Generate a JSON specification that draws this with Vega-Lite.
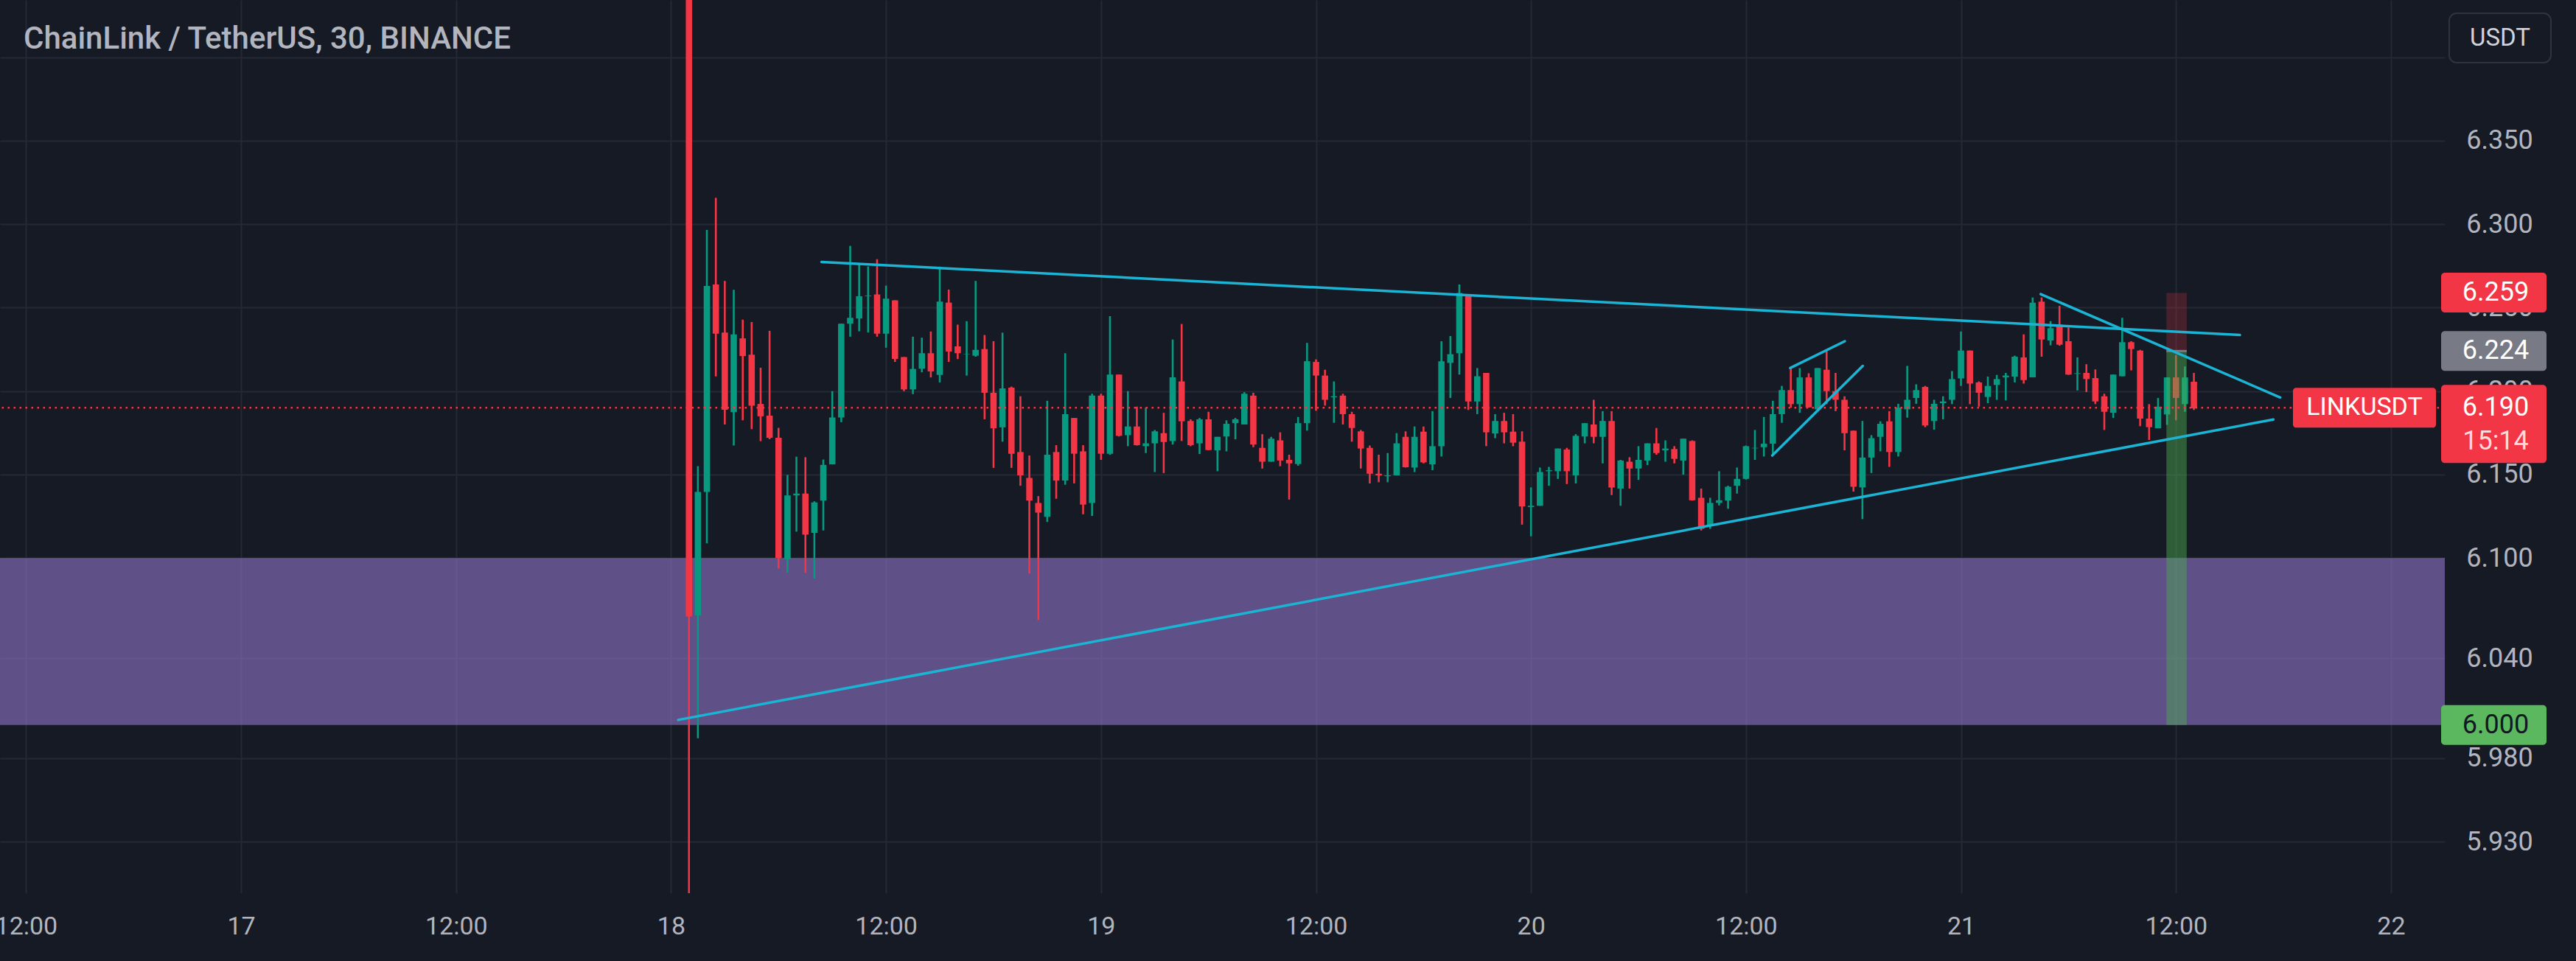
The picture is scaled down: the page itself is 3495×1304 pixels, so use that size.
{
"$schema":"https://vega.github.io/schema/vega-lite/v6.json",
"width":3317,"height":1212,
"autosize":{"type":"none"},
"padding":{"left":0,"top":0,"right":178,"bottom":92},
"background":"#161a25",
"config":{"view":{"stroke":null},"font":"Roboto"},
"datasets":{
"candles":[
{"t":"2022-11-18T01:00","o":6.60,"h":6.65,"l":5.85,"c":6.065},
{"t":"2022-11-18T01:30","o":6.0656,"h":6.155,"l":5.992,"c":6.1396},
{"t":"2022-11-18T02:00","o":6.1396,"h":6.2965,"l":6.1088,"c":6.263},
{"t":"2022-11-18T02:30","o":6.2639,"h":6.3158,"l":6.2088,"c":6.2344},
{"t":"2022-11-18T03:00","o":6.2351,"h":6.266,"l":6.18,"c":6.1888},
{"t":"2022-11-18T03:30","o":6.1874,"h":6.2607,"l":6.1674,"c":6.234},
{"t":"2022-11-18T04:00","o":6.2316,"h":6.2428,"l":6.1825,"c":6.221},
{"t":"2022-11-18T04:30","o":6.2218,"h":6.2414,"l":6.1772,"c":6.1912},
{"t":"2022-11-18T05:00","o":6.1923,"h":6.214,"l":6.170,"c":6.1849},
{"t":"2022-11-18T05:30","o":6.1853,"h":6.2361,"l":6.1712,"c":6.172},
{"t":"2022-11-18T06:00","o":6.172,"h":6.178,"l":6.0937,"c":6.100},
{"t":"2022-11-18T06:30","o":6.0993,"h":6.1498,"l":6.0912,"c":6.1375},
{"t":"2022-11-18T07:00","o":6.1375,"h":6.1607,"l":6.1158,"c":6.1386},
{"t":"2022-11-18T07:30","o":6.1386,"h":6.1604,"l":6.0912,"c":6.114},
{"t":"2022-11-18T08:00","o":6.1151,"h":6.134,"l":6.0877,"c":6.1333},
{"t":"2022-11-18T08:30","o":6.1344,"h":6.159,"l":6.1165,"c":6.1558},
{"t":"2022-11-18T09:00","o":6.1561,"h":6.2,"l":6.1561,"c":6.1842},
{"t":"2022-11-18T09:30","o":6.1842,"h":6.2404,"l":6.1814,"c":6.2404},
{"t":"2022-11-18T10:00","o":6.2404,"h":6.287,"l":6.2326,"c":6.2439},
{"t":"2022-11-18T10:30","o":6.2435,"h":6.2765,"l":6.2358,"c":6.2568},
{"t":"2022-11-18T11:00","o":6.2568,"h":6.2747,"l":6.2351,"c":6.2572},
{"t":"2022-11-18T11:30","o":6.2579,"h":6.279,"l":6.2326,"c":6.2344},
{"t":"2022-11-18T12:00","o":6.2344,"h":6.2632,"l":6.226,"c":6.2554},
{"t":"2022-11-18T12:30","o":6.2544,"h":6.2544,"l":6.2175,"c":6.2193},
{"t":"2022-11-18T13:00","o":6.2204,"h":6.2204,"l":6.200,"c":6.201},
{"t":"2022-11-18T13:30","o":6.201,"h":6.2326,"l":6.1982,"c":6.2133},
{"t":"2022-11-18T14:00","o":6.2134,"h":6.232,"l":6.2113,"c":6.2227},
{"t":"2022-11-18T14:30","o":6.2227,"h":6.2357,"l":6.2082,"c":6.2118},
{"t":"2022-11-18T15:00","o":6.2097,"h":6.2746,"l":6.2052,"c":6.2536},
{"t":"2022-11-18T15:30","o":6.253,"h":6.2608,"l":6.2175,"c":6.2237},
{"t":"2022-11-18T16:00","o":6.2268,"h":6.2398,"l":6.2192,"c":6.2227},
{"t":"2022-11-18T16:30","o":6.2221,"h":6.2419,"l":6.2093,"c":6.2223},
{"t":"2022-11-18T17:00","o":6.2212,"h":6.266,"l":6.2206,"c":6.2247},
{"t":"2022-11-18T17:30","o":6.2252,"h":6.2336,"l":6.1831,"c":6.199},
{"t":"2022-11-18T18:00","o":6.199,"h":6.2299,"l":6.154,"c":6.1777},
{"t":"2022-11-18T18:30","o":6.1783,"h":6.235,"l":6.1697,"c":6.2016},
{"t":"2022-11-18T19:00","o":6.2021,"h":6.2027,"l":6.154,"c":6.1625},
{"t":"2022-11-18T19:30","o":6.1635,"h":6.1969,"l":6.1433,"c":6.1495},
{"t":"2022-11-18T20:00","o":6.148,"h":6.1614,"l":6.0907,"c":6.1344},
{"t":"2022-11-18T20:30","o":6.133,"h":6.1371,"l":6.0629,"c":6.1272},
{"t":"2022-11-18T21:00","o":6.1247,"h":6.1942,"l":6.1216,"c":6.1619},
{"t":"2022-11-18T21:30","o":6.1635,"h":6.1676,"l":6.1355,"c":6.1464},
{"t":"2022-11-18T22:00","o":6.1464,"h":6.2227,"l":6.1439,"c":6.1862},
{"t":"2022-11-18T22:30","o":6.1839,"h":6.1839,"l":6.1447,"c":6.1625},
{"t":"2022-11-18T23:00","o":6.1639,"h":6.1676,"l":6.1262,"c":6.132},
{"t":"2022-11-18T23:30","o":6.133,"h":6.1984,"l":6.1252,"c":6.1973},
{"t":"2022-11-19T00:00","o":6.1973,"h":6.1984,"l":6.1588,"c":6.1625},
{"t":"2022-11-19T00:30","o":6.1625,"h":6.2449,"l":6.1618,"c":6.2099},
{"t":"2022-11-19T01:00","o":6.2099,"h":6.2099,"l":6.1728,"c":6.1732},
{"t":"2022-11-19T01:30","o":6.1736,"h":6.2,"l":6.167,"c":6.1788},
{"t":"2022-11-19T02:00","o":6.1788,"h":6.1907,"l":6.1674,"c":6.1676},
{"t":"2022-11-19T02:30","o":6.167,"h":6.1901,"l":6.1629,"c":6.1687},
{"t":"2022-11-19T03:00","o":6.1687,"h":6.1767,"l":6.1515,"c":6.1759},
{"t":"2022-11-19T03:30","o":6.1748,"h":6.187,"l":6.1509,"c":6.1695},
{"t":"2022-11-19T04:00","o":6.1701,"h":6.2309,"l":6.168,"c":6.2082},
{"t":"2022-11-19T04:30","o":6.2058,"h":6.2402,"l":6.1701,"c":6.1819},
{"t":"2022-11-19T05:00","o":6.1821,"h":6.1831,"l":6.167,"c":6.1676},
{"t":"2022-11-19T05:30","o":6.1687,"h":6.1839,"l":6.1623,"c":6.1831},
{"t":"2022-11-19T06:00","o":6.1831,"h":6.1876,"l":6.1645,"c":6.1647},
{"t":"2022-11-19T06:30","o":6.1645,"h":6.1726,"l":6.152,"c":6.1726},
{"t":"2022-11-19T07:00","o":6.1728,"h":6.1825,"l":6.1639,"c":6.1804},
{"t":"2022-11-19T07:30","o":6.1808,"h":6.1839,"l":6.1711,"c":6.1831},
{"t":"2022-11-19T08:00","o":6.18,"h":6.1994,"l":6.18,"c":6.1984},
{"t":"2022-11-19T08:30","o":6.1973,"h":6.199,"l":6.1664,"c":6.168},
{"t":"2022-11-19T09:00","o":6.166,"h":6.1742,"l":6.1536,"c":6.1577},
{"t":"2022-11-19T09:30","o":6.1577,"h":6.1726,"l":6.1577,"c":6.1715},
{"t":"2022-11-19T10:00","o":6.1705,"h":6.1753,"l":6.155,"c":6.1584},
{"t":"2022-11-19T10:30","o":6.1588,"h":6.1619,"l":6.135,"c":6.1567},
{"t":"2022-11-19T11:00","o":6.1563,"h":6.1845,"l":6.1553,"c":6.1808},
{"t":"2022-11-19T11:30","o":6.1808,"h":6.2289,"l":6.1763,"c":6.2179},
{"t":"2022-11-19T12:00","o":6.2175,"h":6.219,"l":6.1882,"c":6.2093},
{"t":"2022-11-19T12:30","o":6.2093,"h":6.2128,"l":6.1913,"c":6.1948},
{"t":"2022-11-19T13:00","o":6.1963,"h":6.2058,"l":6.181,"c":6.1969},
{"t":"2022-11-19T13:30","o":6.1973,"h":6.1984,"l":6.18,"c":6.1862},
{"t":"2022-11-19T14:00","o":6.1862,"h":6.1876,"l":6.1697,"c":6.1779},
{"t":"2022-11-19T14:30","o":6.1759,"h":6.1767,"l":6.1536,"c":6.1656},
{"t":"2022-11-19T15:00","o":6.166,"h":6.1674,"l":6.1447,"c":6.1505},
{"t":"2022-11-19T15:30","o":6.1505,"h":6.1619,"l":6.1454,"c":6.1495},
{"t":"2022-11-19T16:00","o":6.149,"h":6.1629,"l":6.1454,"c":6.1495},
{"t":"2022-11-19T16:30","o":6.1495,"h":6.1748,"l":6.1495,"c":6.1687},
{"t":"2022-11-19T17:00","o":6.1726,"h":6.1759,"l":6.1542,"c":6.1544},
{"t":"2022-11-19T17:30","o":6.1542,"h":6.1788,"l":6.1515,"c":6.1726},
{"t":"2022-11-19T18:00","o":6.1757,"h":6.1788,"l":6.1567,"c":6.1573},
{"t":"2022-11-19T18:30","o":6.1561,"h":6.188,"l":6.1526,"c":6.167},
{"t":"2022-11-19T19:00","o":6.167,"h":6.2299,"l":6.1608,"c":6.2179},
{"t":"2022-11-19T19:30","o":6.2169,"h":6.233,"l":6.1959,"c":6.2221},
{"t":"2022-11-19T20:00","o":6.2227,"h":6.2639,"l":6.2099,"c":6.2588},
{"t":"2022-11-19T20:30","o":6.2581,"h":6.2581,"l":6.1887,"c":6.1938},
{"t":"2022-11-19T21:00","o":6.1938,"h":6.2138,"l":6.1862,"c":6.2089},
{"t":"2022-11-19T21:30","o":6.2109,"h":6.2109,"l":6.167,"c":6.1753},
{"t":"2022-11-19T22:00","o":6.1746,"h":6.1862,"l":6.1718,"c":6.1821},
{"t":"2022-11-19T22:30","o":6.1821,"h":6.187,"l":6.1687,"c":6.1753},
{"t":"2022-11-19T23:00","o":6.1757,"h":6.1862,"l":6.167,"c":6.1691},
{"t":"2022-11-19T23:30","o":6.1697,"h":6.1759,"l":6.12,"c":6.1309},
{"t":"2022-11-20T00:00","o":6.1305,"h":6.1423,"l":6.113,"c":6.1313},
{"t":"2022-11-20T00:30","o":6.1313,"h":6.1542,"l":6.1313,"c":6.1515},
{"t":"2022-11-20T01:00","o":6.152,"h":6.1546,"l":6.1433,"c":6.1526},
{"t":"2022-11-20T01:30","o":6.152,"h":6.1656,"l":6.1474,"c":6.1656},
{"t":"2022-11-20T02:00","o":6.165,"h":6.166,"l":6.1443,"c":6.152},
{"t":"2022-11-20T02:30","o":6.1495,"h":6.1742,"l":6.1447,"c":6.1732},
{"t":"2022-11-20T03:00","o":6.1728,"h":6.1808,"l":6.1687,"c":6.1808},
{"t":"2022-11-20T03:30","o":6.18,"h":6.1948,"l":6.1687,"c":6.1726},
{"t":"2022-11-20T04:00","o":6.1726,"h":6.188,"l":6.1567,"c":6.1821},
{"t":"2022-11-20T04:30","o":6.1821,"h":6.188,"l":6.1377,"c":6.1423},
{"t":"2022-11-20T05:00","o":6.1416,"h":6.1588,"l":6.1313,"c":6.1584},
{"t":"2022-11-20T05:30","o":6.1577,"h":6.1604,"l":6.1416,"c":6.1536},
{"t":"2022-11-20T06:00","o":6.1536,"h":6.167,"l":6.1468,"c":6.1588},
{"t":"2022-11-20T06:30","o":6.1584,"h":6.1687,"l":6.1557,"c":6.1687},
{"t":"2022-11-20T07:00","o":6.1687,"h":6.1779,"l":6.1619,"c":6.1629},
{"t":"2022-11-20T07:30","o":6.1645,"h":6.1705,"l":6.1577,"c":6.1656},
{"t":"2022-11-20T08:00","o":6.1653,"h":6.167,"l":6.1567,"c":6.1594},
{"t":"2022-11-20T08:30","o":6.1584,"h":6.1715,"l":6.1499,"c":6.1715},
{"t":"2022-11-20T09:00","o":6.1701,"h":6.1705,"l":6.1344,"c":6.1346},
{"t":"2022-11-20T09:30","o":6.1361,"h":6.1416,"l":6.1165,"c":6.1175},
{"t":"2022-11-20T10:00","o":6.1192,"h":6.1361,"l":6.1175,"c":6.133},
{"t":"2022-11-20T10:30","o":6.133,"h":6.152,"l":6.1315,"c":6.1346},
{"t":"2022-11-20T11:00","o":6.1344,"h":6.1433,"l":6.1295,"c":6.1427},
{"t":"2022-11-20T11:30","o":6.1433,"h":6.1542,"l":6.1386,"c":6.1474},
{"t":"2022-11-20T12:00","o":6.1474,"h":6.1674,"l":6.147,"c":6.167},
{"t":"2022-11-20T12:30","o":6.1657,"h":6.1767,"l":6.1588,"c":6.166},
{"t":"2022-11-20T13:00","o":6.1664,"h":6.1845,"l":6.1608,"c":6.1685},
{"t":"2022-11-20T13:30","o":6.1685,"h":6.1942,"l":6.1625,"c":6.1862},
{"t":"2022-11-20T14:00","o":6.1862,"h":6.2031,"l":6.181,"c":6.2006},
{"t":"2022-11-20T14:30","o":6.2006,"h":6.2138,"l":6.1901,"c":6.1922},
{"t":"2022-11-20T15:00","o":6.1922,"h":6.2138,"l":6.187,"c":6.2082},
{"t":"2022-11-20T15:30","o":6.2082,"h":6.2107,"l":6.1901,"c":6.1903},
{"t":"2022-11-20T16:00","o":6.1891,"h":6.2138,"l":6.188,"c":6.2138},
{"t":"2022-11-20T16:30","o":6.2128,"h":6.2247,"l":6.1922,"c":6.2},
{"t":"2022-11-20T17:00","o":6.2,"h":6.2109,"l":6.188,"c":6.1948},
{"t":"2022-11-20T17:30","o":6.1948,"h":6.1969,"l":6.1645,"c":6.1748},
{"t":"2022-11-20T18:00","o":6.1763,"h":6.1763,"l":6.1398,"c":6.1427},
{"t":"2022-11-20T18:30","o":6.1423,"h":6.1821,"l":6.1233,"c":6.1602},
{"t":"2022-11-20T19:00","o":6.1602,"h":6.1736,"l":6.1509,"c":6.1718},
{"t":"2022-11-20T19:30","o":6.1726,"h":6.1819,"l":6.1639,"c":6.1804},
{"t":"2022-11-20T20:00","o":6.1819,"h":6.188,"l":6.1546,"c":6.1635},
{"t":"2022-11-20T20:30","o":6.1635,"h":6.1924,"l":6.1608,"c":6.1901},
{"t":"2022-11-20T21:00","o":6.1891,"h":6.2151,"l":6.1841,"c":6.1948},
{"t":"2022-11-20T21:30","o":6.1959,"h":6.2041,"l":6.1924,"c":6.2006},
{"t":"2022-11-20T22:00","o":6.2025,"h":6.2031,"l":6.1784,"c":6.1794},
{"t":"2022-11-20T22:30","o":6.1821,"h":6.1948,"l":6.1769,"c":6.1924},
{"t":"2022-11-20T23:00","o":6.1928,"h":6.1969,"l":6.1831,"c":6.1938},
{"t":"2022-11-20T23:30","o":6.1948,"h":6.212,"l":6.1922,"c":6.2072},
{"t":"2022-11-21T00:00","o":6.2076,"h":6.2357,"l":6.2031,"c":6.2243},
{"t":"2022-11-21T00:30","o":6.2243,"h":6.2243,"l":6.1922,"c":6.2045},
{"t":"2022-11-21T01:00","o":6.2052,"h":6.2058,"l":6.1907,"c":6.199},
{"t":"2022-11-21T01:30","o":6.1965,"h":6.2087,"l":6.1928,"c":6.2031},
{"t":"2022-11-21T02:00","o":6.2037,"h":6.2097,"l":6.1948,"c":6.2072},
{"t":"2022-11-21T02:30","o":6.2082,"h":6.2109,"l":6.1944,"c":6.2093},
{"t":"2022-11-21T03:00","o":6.2087,"h":6.2212,"l":6.2052,"c":6.2206},
{"t":"2022-11-21T03:30","o":6.2202,"h":6.234,"l":6.2045,"c":6.2066},
{"t":"2022-11-21T04:00","o":6.2082,"h":6.2561,"l":6.2082,"c":6.253},
{"t":"2022-11-21T04:30","o":6.2536,"h":6.2561,"l":6.2206,"c":6.2309},
{"t":"2022-11-21T05:00","o":6.2303,"h":6.2419,"l":6.2274,"c":6.2377},
{"t":"2022-11-21T05:30","o":6.2398,"h":6.2511,"l":6.2272,"c":6.2278},
{"t":"2022-11-21T06:00","o":6.2299,"h":6.2381,"l":6.2097,"c":6.2099},
{"t":"2022-11-21T06:30","o":6.2103,"h":6.2202,"l":6.2004,"c":6.2107},
{"t":"2022-11-21T07:00","o":6.2109,"h":6.2161,"l":6.1994,"c":6.2072},
{"t":"2022-11-21T07:30","o":6.2078,"h":6.213,"l":6.1922,"c":6.1938},
{"t":"2022-11-21T08:00","o":6.1969,"h":6.1984,"l":6.1767,"c":6.1876},
{"t":"2022-11-21T08:30","o":6.187,"h":6.2099,"l":6.1839,"c":6.2099},
{"t":"2022-11-21T09:00","o":6.2089,"h":6.2439,"l":6.2089,"c":6.2293},
{"t":"2022-11-21T09:30","o":6.2293,"h":6.2299,"l":6.2124,"c":6.2252},
{"t":"2022-11-21T10:00","o":6.2243,"h":6.2247,"l":6.179,"c":6.1835},
{"t":"2022-11-21T10:30","o":6.1835,"h":6.1922,"l":6.1707,"c":6.1784},
{"t":"2022-11-21T11:00","o":6.1777,"h":6.1959,"l":6.1777,"c":6.1907},
{"t":"2022-11-21T11:30","o":6.186,"h":6.2082,"l":6.1798,"c":6.2082},
{"t":"2022-11-21T12:00","o":6.2082,"h":6.2216,"l":6.1825,"c":6.1959},
{"t":"2022-11-21T12:30","o":6.1922,"h":6.2148,"l":6.1876,"c":6.2082},
{"t":"2022-11-21T13:00","o":6.2056,"h":6.2109,"l":6.1887,"c":6.1897}
],
"trendlines":[
{"id":"upper","t":"2022-11-18T08:24","p":6.2774},{"id":"upper","t":"2022-11-21T15:34","p":6.2336},
{"id":"lower","t":"2022-11-18T00:24","p":6.003},{"id":"lower","t":"2022-11-21T17:26","p":6.183},
{"id":"descending","t":"2022-11-21T04:27","p":6.2581},{"id":"descending","t":"2022-11-21T17:49","p":6.1962},
{"id":"wedge_top","t":"2022-11-20T14:28","p":6.2138},{"id":"wedge_top","t":"2022-11-20T17:31","p":6.2299},
{"id":"wedge_bottom","t":"2022-11-20T13:28","p":6.1614},{"id":"wedge_bottom","t":"2022-11-20T18:31","p":6.2151}
]
},
"layer":[
{"data":{"values":[{"top":6.1,"bottom":6.0}]},
 "mark":{"type":"rect","fill":"#9174ca","opacity":0.6,"clip":true},
 "encoding":{
  "x":{"datum":{"year":2022,"month":11,"date":16,"hours":0},"type":"temporal",
   "scale":{"domain":[{"year":2022,"month":11,"date":16,"hours":10,"minutes":45},{"year":2022,"month":11,"date":22,"hours":2,"minutes":48}],"nice":false},
   "axis":{"title":null,"values":[
     {"year":2022,"month":11,"date":16,"hours":12},{"year":2022,"month":11,"date":17,"hours":0},
     {"year":2022,"month":11,"date":17,"hours":12},{"year":2022,"month":11,"date":18,"hours":0},
     {"year":2022,"month":11,"date":18,"hours":12},{"year":2022,"month":11,"date":19,"hours":0},
     {"year":2022,"month":11,"date":19,"hours":12},{"year":2022,"month":11,"date":20,"hours":0},
     {"year":2022,"month":11,"date":20,"hours":12},{"year":2022,"month":11,"date":21,"hours":0},
     {"year":2022,"month":11,"date":21,"hours":12},{"year":2022,"month":11,"date":22,"hours":0}],
    "labelExpr":"hours(datum.value) == 0 ? timeFormat(datum.value, '%-d') : '12:00'",
    "grid":true,"gridColor":"#252935","gridWidth":2,"domain":false,"ticks":false,"tickSize":0,
    "labelColor":"#b2b5be","labelFontSize":34,"labelFont":"Roboto","labelPadding":45,"labelBaseline":"middle",
    "labelFlush":false,"labelOverlap":false}},
  "x2":{"datum":{"year":2022,"month":11,"date":23,"hours":0}},
  "y":{"field":"top","type":"quantitative","title":null,
     "scale":{"domain":[5.8992,6.4343],"zero":false,"nice":false},
     "axis":{"title":null,"orient":"right","values":[5.93,5.98,6.04,6.1,6.15,6.2,6.25,6.3,6.35,6.4],
      "labelExpr":"datum.value > 6.39 ? '' : format(datum.value, '.3f')",
      "grid":true,"gridColor":"#252935","gridWidth":2,"domain":false,"ticks":false,"tickSize":0,
      "labelColor":"#b2b5be","labelFontSize":36,"labelFont":"Roboto","labelAlign":"center","labelPadding":74,"labelBaseline":"middle"}},
  "y2":{"field":"bottom"}}},
{"data":{"name":"candles"},
 "encoding":{
  "x":{"field":"t","type":"temporal","title":null},
  "color":{"condition":{"test":"datum.c >= datum.o","value":"#089981"},"value":"#f23645"}},
 "layer":[
  {"mark":{"type":"rule","strokeWidth":2.6,"clip":true},
   "encoding":{"y":{"field":"l","type":"quantitative","title":null},"y2":{"field":"h"}}},
  {"mark":{"type":"bar","width":8.6,"clip":true},
   "encoding":{"y":{"field":"o","type":"quantitative","title":null},"y2":{"field":"c"}}}
 ]},
{"data":{"values":[{"top":6.2588,"bottom":6.224,"zone":"stop"},{"top":6.224,"bottom":6.0,"zone":"target"}]},
 "mark":{"type":"rect","clip":true},
 "encoding":{
  "x":{"datum":{"year":2022,"month":11,"date":21,"hours":11,"minutes":28},"type":"temporal"},
  "x2":{"datum":{"year":2022,"month":11,"date":21,"hours":12,"minutes":36}},
  "y":{"field":"top","type":"quantitative","title":null},
  "y2":{"field":"bottom"},
  "fill":{"condition":{"test":"datum.zone == 'stop'","value":"#f23645"},"value":"#4caf50"},
  "opacity":{"condition":{"test":"datum.zone == 'stop'","value":0.22},"value":0.45}}},
{"data":{"values":[{"entry":6.224}]},
 "mark":{"type":"rule","color":"#787b86","strokeWidth":3},
 "encoding":{
  "x":{"datum":{"year":2022,"month":11,"date":21,"hours":11,"minutes":28},"type":"temporal"},
  "x2":{"datum":{"year":2022,"month":11,"date":21,"hours":12,"minutes":36}},
  "y":{"field":"entry","type":"quantitative","title":null}}},
{"data":{"values":[{"last":6.19}]},
 "mark":{"type":"rule","color":"#f23645","strokeWidth":2.5,"strokeDash":[2.5,5.5]},
 "encoding":{"y":{"field":"last","type":"quantitative","title":null}}},
{"data":{"name":"trendlines"},
 "mark":{"type":"line","color":"#1cb4d4","strokeWidth":3.5,"strokeCap":"round","clip":true},
 "encoding":{
  "x":{"field":"t","type":"temporal","title":null},
  "y":{"field":"p","type":"quantitative","title":null},
  "detail":{"field":"id"}}},
{"data":{"values":[{"p":6.19,"symbol":"LINKUSDT"}]},
 "layer":[
  {"mark":{"type":"rect","fill":"#f23645","cornerRadius":4,"xOffset":-201,"x2Offset":-7,"yOffset":-27,"y2Offset":27},
   "encoding":{
    "x":{"datum":{"year":2022,"month":11,"date":22,"hours":2,"minutes":48},"type":"temporal"},
    "x2":{"datum":{"year":2022,"month":11,"date":22,"hours":2,"minutes":48}},
    "y":{"field":"p","type":"quantitative","title":null},"y2":{"field":"p"}}},
  {"mark":{"type":"text","color":"#ffffff","fontSize":34,"font":"Roboto","align":"center","baseline":"middle","xOffset":-104},
   "encoding":{
    "x":{"datum":{"year":2022,"month":11,"date":22,"hours":2,"minutes":48},"type":"temporal"},
    "y":{"field":"p","type":"quantitative","title":null},"text":{"field":"symbol"}}}
 ]},
{"data":{"values":[{"p":6.259}]},
 "layer":[
  {"mark":{"type":"rect","fill":"#f23645","cornerRadius":5,"x2Offset":143,"yOffset":-27,"y2Offset":27},
   "encoding":{
    "x":{"datum":{"year":2022,"month":11,"date":22,"hours":2,"minutes":48},"type":"temporal"},
    "x2":{"datum":{"year":2022,"month":11,"date":22,"hours":2,"minutes":48}},
    "y":{"field":"p","type":"quantitative","title":null},"y2":{"field":"p"}}},
  {"mark":{"type":"text","color":"#ffffff","fontSize":36,"font":"Roboto","align":"center","baseline":"middle","xOffset":74},
   "encoding":{
    "x":{"datum":{"year":2022,"month":11,"date":22,"hours":2,"minutes":48},"type":"temporal"},
    "y":{"field":"p","type":"quantitative","title":null},"text":{"field":"p","format":".3f"}}}
 ]},
{"data":{"values":[{"p":6.224}]},
 "layer":[
  {"mark":{"type":"rect","fill":"#787b86","cornerRadius":5,"x2Offset":143,"yOffset":-27,"y2Offset":27},
   "encoding":{
    "x":{"datum":{"year":2022,"month":11,"date":22,"hours":2,"minutes":48},"type":"temporal"},
    "x2":{"datum":{"year":2022,"month":11,"date":22,"hours":2,"minutes":48}},
    "y":{"field":"p","type":"quantitative","title":null},"y2":{"field":"p"}}},
  {"mark":{"type":"text","color":"#ffffff","fontSize":36,"font":"Roboto","align":"center","baseline":"middle","xOffset":74},
   "encoding":{
    "x":{"datum":{"year":2022,"month":11,"date":22,"hours":2,"minutes":48},"type":"temporal"},
    "y":{"field":"p","type":"quantitative","title":null},"text":{"field":"p","format":".3f"}}}
 ]},
{"data":{"values":[{"p":6.19,"countdown":"15:14"}]},
 "layer":[
  {"mark":{"type":"rect","fill":"#f23645","cornerRadius":5,"x2Offset":143,"yOffset":-31,"y2Offset":75},
   "encoding":{
    "x":{"datum":{"year":2022,"month":11,"date":22,"hours":2,"minutes":48},"type":"temporal"},
    "x2":{"datum":{"year":2022,"month":11,"date":22,"hours":2,"minutes":48}},
    "y":{"field":"p","type":"quantitative","title":null},"y2":{"field":"p"}}},
  {"mark":{"type":"text","color":"#ffffff","fontSize":36,"font":"Roboto","align":"center","baseline":"middle","xOffset":74},
   "encoding":{
    "x":{"datum":{"year":2022,"month":11,"date":22,"hours":2,"minutes":48},"type":"temporal"},
    "y":{"field":"p","type":"quantitative","title":null},"text":{"field":"p","format":".3f"}}},
  {"mark":{"type":"text","color":"#ffd9dc","fontSize":36,"font":"Roboto","align":"center","baseline":"middle","xOffset":74,"yOffset":46},
   "encoding":{
    "x":{"datum":{"year":2022,"month":11,"date":22,"hours":2,"minutes":48},"type":"temporal"},
    "y":{"field":"p","type":"quantitative","title":null},"text":{"field":"countdown"}}}
 ]},
{"data":{"values":[{"p":6.0}]},
 "layer":[
  {"mark":{"type":"rect","fill":"#5cb85f","cornerRadius":5,"x2Offset":143,"yOffset":-27,"y2Offset":27},
   "encoding":{
    "x":{"datum":{"year":2022,"month":11,"date":22,"hours":2,"minutes":48},"type":"temporal"},
    "x2":{"datum":{"year":2022,"month":11,"date":22,"hours":2,"minutes":48}},
    "y":{"field":"p","type":"quantitative","title":null},"y2":{"field":"p"}}},
  {"mark":{"type":"text","color":"#131722","fontSize":36,"font":"Roboto","align":"center","baseline":"middle","xOffset":74},
   "encoding":{
    "x":{"datum":{"year":2022,"month":11,"date":22,"hours":2,"minutes":48},"type":"temporal"},
    "y":{"field":"p","type":"quantitative","title":null},"text":{"field":"p","format":".3f"}}}
 ]},
{"data":{"values":[{"label":"USDT"}]},
 "layer":[
  {"mark":{"type":"rect","fill":"#161a25","stroke":"#2f3340","strokeWidth":2,"cornerRadius":10,"xOffset":11,"x2Offset":149,"yOffset":18,"y2Offset":85},
   "encoding":{
    "x":{"datum":{"year":2022,"month":11,"date":22,"hours":2,"minutes":48},"type":"temporal"},
    "x2":{"datum":{"year":2022,"month":11,"date":22,"hours":2,"minutes":48}},
    "y":{"datum":6.4343,"type":"quantitative"},"y2":{"datum":6.4343}}},
  {"mark":{"type":"text","color":"#d1d4dc","fontSize":33,"font":"Roboto","align":"center","baseline":"middle","xOffset":80,"yOffset":52},
   "encoding":{
    "x":{"datum":{"year":2022,"month":11,"date":22,"hours":2,"minutes":48},"type":"temporal"},
    "y":{"datum":6.4343,"type":"quantitative"},"text":{"field":"label"}}}
 ]},
{"data":{"values":[{"name":"ChainLink / TetherUS, 30, BINANCE"}]},
 "mark":{"type":"text","align":"left","baseline":"middle","fontSize":42,"fontWeight":500,"font":"Roboto","color":"#b2b5be","xOffset":27,"yOffset":53},
 "encoding":{
  "x":{"datum":{"year":2022,"month":11,"date":16,"hours":10,"minutes":45},"type":"temporal"},
  "y":{"datum":6.4343,"type":"quantitative"},
  "text":{"field":"name"}}}
]
}
